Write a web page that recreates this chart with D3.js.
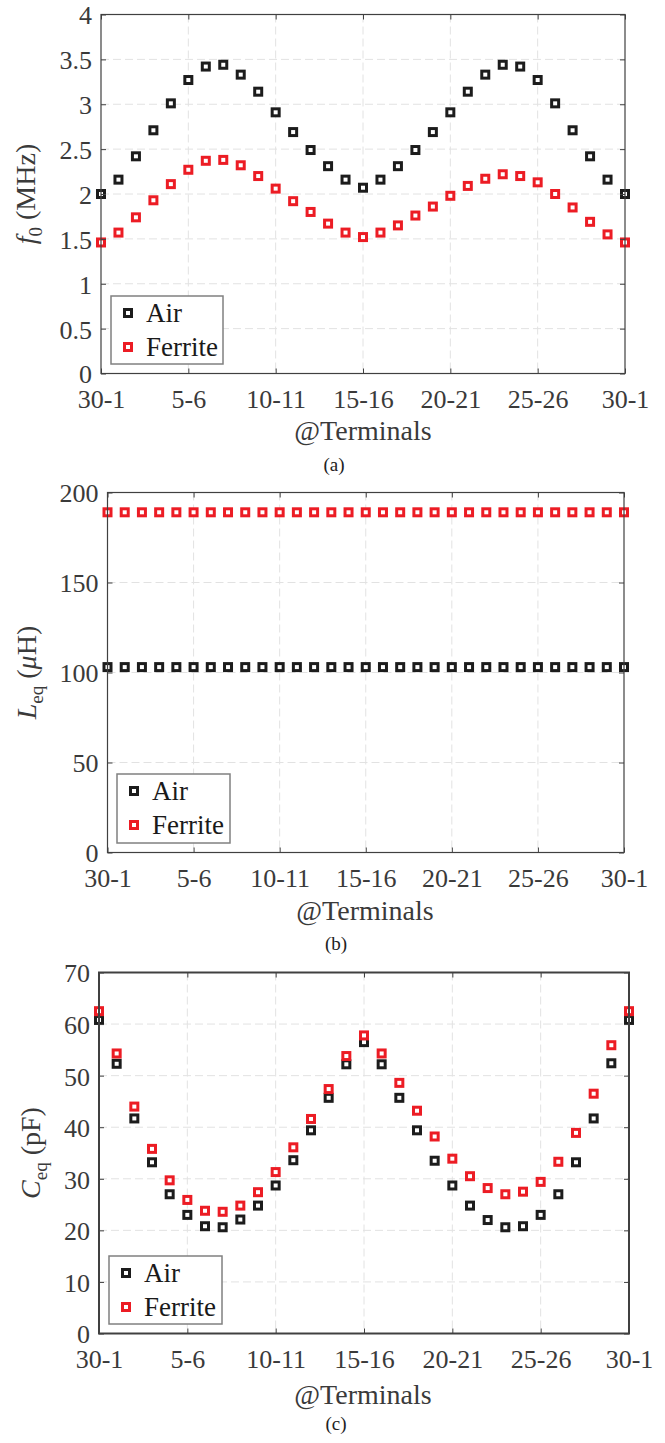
<!DOCTYPE html>
<meta charset="utf-8">
<html>
<head>
<style>
  body { margin: 0; background: #fff; }
  .grid line { stroke: #e2e2e2; stroke-width: 1; stroke-dasharray: 8,4; }
  .axis line { stroke: #404040; }
  .axis text { font-size: 26px; }
  .axisLabel { font-size: 28px; }
  .caption { font-size: 19px; }
  .legend text { font-size: 27px; }
</style>
</head>
<body>
<div id="chart"></div>
<script src="https://d3js.org/d3.v7.min.js"></script>
<script>

// terminal pair at each measurement position
var terminals = ["30-1", "1-2", "2-3", "3-4", "4-5", "5-6", "6-7", "7-8", "8-9", "9-10",
  "10-11", "11-12", "12-13", "13-14", "14-15", "15-16", "16-17", "17-18", "18-19", "19-20",
  "20-21", "21-22", "22-23", "23-24", "24-25", "25-26", "26-27", "27-28", "28-29", "29-30", "30-1"];
var xTickIdx = [0, 5, 10, 15, 20, 25, 30];
var seriesNames = ["Air", "Ferrite"];

// (a) resonant frequency, MHz
var f0Air = [2.00, 2.16, 2.42, 2.71, 3.01, 3.27, 3.42, 3.44, 3.33, 3.14,
  2.91, 2.69, 2.49, 2.31, 2.16, 2.07, 2.16, 2.31, 2.49, 2.69,
  2.91, 3.14, 3.33, 3.44, 3.42, 3.27, 3.01, 2.71, 2.42, 2.16, 2.00];
var f0Ferrite = [1.46, 1.57, 1.74, 1.93, 2.11, 2.27, 2.37, 2.38, 2.32, 2.20,
  2.06, 1.92, 1.80, 1.67, 1.57, 1.52, 1.57, 1.65, 1.76, 1.86,
  1.98, 2.09, 2.17, 2.22, 2.20, 2.13, 2.00, 1.85, 1.69, 1.55, 1.46];
var f0Ticks = [0, 0.5, 1, 1.5, 2, 2.5, 3, 3.5, 4];

// (b) equivalent inductance, uH
var leqAir = [103, 103, 103, 103, 103, 103, 103, 103, 103, 103,
  103, 103, 103, 103, 103, 103, 103, 103, 103, 103,
  103, 103, 103, 103, 103, 103, 103, 103, 103, 103, 103];
var leqFerrite = [189, 189, 189, 189, 189, 189, 189, 189, 189, 189,
  189, 189, 189, 189, 189, 189, 189, 189, 189, 189,
  189, 189, 189, 189, 189, 189, 189, 189, 189, 189, 189];
var leqTicks = [0, 50, 100, 150, 200];

// (c) equivalent capacitance, pF
var ceqAir = [60.8, 52.3, 41.7, 33.2, 27.0, 23.0, 20.8, 20.6, 22.1, 24.8,
  28.7, 33.6, 39.4, 45.7, 52.2, 56.5, 52.2, 45.7, 39.4, 33.5,
  28.7, 24.8, 22.0, 20.6, 20.8, 23.0, 27.0, 33.2, 41.7, 52.4, 60.8];
var ceqFerrite = [62.5, 54.3, 44.0, 35.8, 29.7, 25.9, 23.8, 23.6, 24.8, 27.4,
  31.3, 36.1, 41.6, 47.4, 53.8, 57.8, 54.3, 48.6, 43.2, 38.2,
  33.9, 30.5, 28.2, 27.0, 27.5, 29.4, 33.3, 38.9, 46.5, 55.9, 62.5];
var ceqTicks = [0, 10, 20, 30, 40, 50, 60, 70];

var colors = ["#1c1c1c", "#ec1c24"];

// pick a Times-like serif that is really installed
function pickSerif() {
  var ctx = document.createElement("canvas").getContext("2d");
  var probe = "Ferrite @Terminals 30-1 0.5";
  var cands = ["Liberation Serif", "Tinos", "Times New Roman", "Times", "Nimbus Roman",
    "DejaVu Serif", "Noto Serif"];
  for (var i = 0; i < cands.length; i++) {
    var differs = ["monospace", "sans-serif"].every(function(fb) {
      ctx.font = "40px " + fb;
      var w0 = ctx.measureText(probe).width;
      ctx.font = '40px "' + cands[i] + '", ' + fb;
      return Math.abs(ctx.measureText(probe).width - w0) > 0.5;
    });
    if (differs) return '"' + cands[i] + '", serif';
  }
  return "serif";
}
var serifFont = pickSerif();

var svg = d3.select("#chart")
  .append("svg")
    .attr("width", 665)
    .attr("height", 1443)
    .style("font-family", serifFont);

// layout of the three panels
var panels = [
  { left: 101, right: 625, top: 14.5, bottom: 373.5, frameW: 1.2,
    series: [f0Air, f0Ferrite], ticks: f0Ticks,
    ylab: { x: 35, sym: "f", sub: "0", pre: " (", mu: "", post: "MHz)" },
    xlabY: 440, xlabX: 363, cap: "(a)", capX: 334, capY: 471,
    legend: { x: 111, y: 296, w: 112, h: 68 } },
  { left: 107.5, right: 624, top: 492.5, bottom: 852.5, frameW: 1.2,
    series: [leqAir, leqFerrite], ticks: leqTicks,
    ylab: { x: 36, sym: "L", sub: "eq", pre: " (", mu: "\u03bc", post: "H)" },
    xlabY: 920, xlabX: 365, cap: "(b)", capX: 336, capY: 950,
    legend: { x: 117, y: 774, w: 113, h: 69 } },
  { left: 99, right: 629, top: 972.5, bottom: 1333.5, frameW: 2,
    series: [ceqAir, ceqFerrite], ticks: ceqTicks,
    ylab: { x: 40, sym: "C", sub: "eq", pre: " (", mu: "", post: "pF)" },
    xlabY: 1403.5, xlabX: 363, cap: "(c)", capX: 336, capY: 1430,
    legend: { x: 109, y: 1256, w: 113, h: 68 } }
];

panels.forEach(function(p) {
  var x = d3.scaleLinear()
    .domain([0, terminals.length - 1])
    .range([p.left, p.right]);
  var y = d3.scaleLinear()
    .domain([p.ticks[0], p.ticks[p.ticks.length - 1]])
    .range([p.bottom, p.top]);

  var g = svg.append("g");

  // dashed grid
  var grid = g.append("g").attr("class", "grid");
  grid.selectAll(".gx")
    .data(xTickIdx.slice(1, -1))
    .enter().append("line")
      .attr("x1", d => x(d)).attr("x2", d => x(d))
      .attr("y1", p.top).attr("y2", p.bottom);
  grid.selectAll(".gy")
    .data(p.ticks.slice(1, -1))
    .enter().append("line")
      .attr("x1", p.left).attr("x2", p.right)
      .attr("y1", d => y(d)).attr("y2", d => y(d));

  // markers, Air first then Ferrite on top
  p.series.forEach(function(vals, si) {
    g.append("g")
      .selectAll("rect")
      .data(vals)
      .enter().append("rect")
        .attr("x", (d, i) => x(i) - 3.5)
        .attr("y", d => y(d) - 3.5)
        .attr("width", 7)
        .attr("height", 7)
        .attr("fill", "#fff")
        .attr("stroke", colors[si])
        .attr("stroke-width", 3);
  });

  // axes with inward ticks on all sides
  g.append("g")
    .attr("class", "axis")
    .attr("transform", "translate(0," + p.bottom + ")")
    .call(d3.axisBottom(x).tickValues(xTickIdx).tickFormat(i => terminals[i])
      .tickSizeInner(-5).tickSizeOuter(0).tickPadding(16));
  g.append("g")
    .attr("class", "axis")
    .attr("transform", "translate(0," + p.top + ")")
    .call(d3.axisTop(x).tickValues(xTickIdx).tickFormat("")
      .tickSizeInner(-5).tickSizeOuter(0));
  var yl = g.append("g")
    .attr("class", "axis")
    .attr("transform", "translate(" + p.left + ",0)")
    .call(d3.axisLeft(y).tickValues(p.ticks).tickFormat(d => String(d))
      .tickSizeInner(-5).tickSizeOuter(0).tickPadding(9));
  yl.selectAll("text").attr("dy", "0.36em");
  g.append("g")
    .attr("class", "axis")
    .attr("transform", "translate(" + p.right + ",0)")
    .call(d3.axisRight(y).tickValues(p.ticks).tickFormat("")
      .tickSizeInner(-5).tickSizeOuter(0));
  g.selectAll(".axis path.domain").remove();
  g.selectAll(".axis").attr("font-family", null).attr("font-size", null);
  g.selectAll(".axis text").attr("fill", "#3a3a3a");

  // frame
  g.append("rect")
    .attr("x", p.left).attr("y", p.top)
    .attr("width", p.right - p.left).attr("height", p.bottom - p.top)
    .attr("fill", "none")
    .attr("stroke", "#404040")
    .attr("stroke-width", p.frameW);

  // y label, with italic symbol and subscript
  var yt = g.append("text")
    .attr("class", "axisLabel")
    .attr("fill", "#3a3a3a")
    .attr("transform", "translate(" + p.ylab.x + "," + ((p.top + p.bottom) / 2) + ") rotate(-90)")
    .attr("text-anchor", "middle");
  yt.append("tspan").attr("font-style", "italic").text(p.ylab.sym);
  yt.append("tspan").attr("font-size", "19px").attr("dy", 7).text(p.ylab.sub);
  yt.append("tspan").attr("dy", -7).text(p.ylab.pre);
  if (p.ylab.mu) yt.append("tspan").attr("font-style", "italic").text(p.ylab.mu);
  yt.append("tspan").text(p.ylab.post);

  // x label and caption
  g.append("text")
    .attr("class", "axisLabel")
    .attr("fill", "#3a3a3a")
    .attr("x", p.xlabX).attr("y", p.xlabY)
    .attr("text-anchor", "middle")
    .text("@Terminals");
  g.append("text")
    .attr("class", "caption")
    .attr("fill", "#222")
    .attr("x", p.capX).attr("y", p.capY)
    .attr("text-anchor", "middle")
    .text(p.cap);

  // legend
  var lg = g.append("g").attr("class", "legend");
  lg.append("rect")
    .attr("x", p.legend.x).attr("y", p.legend.y)
    .attr("width", p.legend.w).attr("height", p.legend.h)
    .attr("fill", "#fff")
    .attr("stroke", "#808080")
    .attr("stroke-width", 1.5);
  seriesNames.forEach(function(name, si) {
    var cy = p.legend.y + 17 + si * 34;
    lg.append("rect")
      .attr("x", p.legend.x + 17 - 3.5).attr("y", cy - 3.5)
      .attr("width", 7).attr("height", 7)
      .attr("fill", "#fff")
      .attr("stroke", colors[si])
      .attr("stroke-width", 3);
    lg.append("text")
      .attr("fill", "#1a1a1a")
      .attr("x", p.legend.x + 35).attr("y", cy + 9)
      .text(name);
  });
});

</script>
</body>
</html>
